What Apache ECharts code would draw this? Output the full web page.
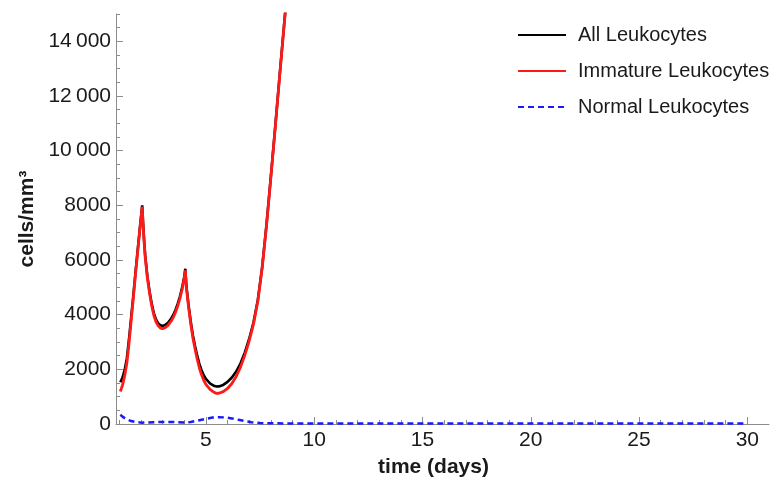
<!DOCTYPE html>
<html>
<head>
<meta charset="utf-8">
<script src="https://cdn.jsdelivr.net/npm/echarts@6/dist/echarts.min.js"></script>
<style>
  html, body { margin: 0; padding: 0; background: #fff; }
  #chart { width: 770px; height: 485px; }
</style>
</head>
<body>
<div id="chart"></div>
<script>
// time points (days) for the two upper curves
const days = [1.05, 1.15, 1.25, 1.35, 1.45, 1.55, 1.65, 1.75, 1.85, 1.95, 2.06,
  2.1, 2.15, 2.2, 2.3, 2.4, 2.5, 2.6, 2.7, 2.8, 2.9, 3.0, 3.1, 3.25, 3.4, 3.5,
  3.6, 3.7, 3.8, 3.9, 4.0, 4.05, 4.1, 4.2, 4.3, 4.4, 4.5, 4.6, 4.7, 4.8, 4.9,
  5.0, 5.2, 5.4, 5.5, 5.6, 5.8, 6.0, 6.2, 6.4, 6.6, 6.8, 7.0, 7.2, 7.4, 7.6,
  7.8, 8.0, 8.2, 8.4, 8.6, 8.8, 9.0]
const allCells = [1530, 1700, 1980, 2400, 3100, 3900, 4700, 5550, 6350, 7150, 8000,
  7350, 6700, 6150, 5400, 4850, 4400, 4050, 3820, 3680, 3610, 3590, 3610, 3700, 3860, 4000,
  4180, 4400, 4660, 4980, 5380, 5680, 5050, 4350, 3750, 3250, 2850, 2500, 2200, 1970, 1790,
  1650, 1480, 1390, 1370, 1375, 1430, 1540, 1700, 1920, 2220, 2620, 3120, 3720, 4550, 5750,
  7300, 9050, 10850, 12700, 14500, 16300, 18100]
const immatureCells = [1190, 1420, 1760, 2220, 2950, 3780, 4610, 5480, 6290, 7100, 7950,
  7290, 6640, 6090, 5330, 4780, 4320, 3970, 3730, 3590, 3510, 3490, 3515, 3610, 3770, 3910,
  4095, 4320, 4585, 4910, 5320, 5620, 4980, 4280, 3670, 3150, 2740, 2370, 2050, 1800, 1600,
  1450, 1260, 1150, 1120, 1125, 1185, 1300, 1480, 1740, 2080, 2520, 3040, 3660, 4500, 5710,
  7270, 9025, 10825, 12675, 14475, 16280, 18080]

// normal leukocytes run over the whole month
const normalDays = [1.05, 1.15, 1.3, 1.5, 1.7, 2.0, 2.3, 2.6, 3.0, 3.5, 4.0, 4.3, 4.6,
  5.0, 5.3, 5.6, 5.9, 6.2, 6.5, 6.8, 7.1, 7.5, 8.0, 9, 10, 12, 15, 20, 25, 30]
const normalCells = [340, 270, 190, 120, 80, 50, 55, 65, 75, 70, 55, 75, 120,
  190, 235, 250, 240, 205, 155, 105, 65, 35, 25, 20, 20, 20, 20, 20, 20, 20]

const xTicks = [5, 10, 15, 20, 25, 30]
const xMinorTicks = [1, 2, 3, 4, 5, 6, 7, 8, 9, 10, 11, 12, 13, 14, 15, 16, 17, 18, 19, 20,
  21, 22, 23, 24, 25, 26, 27, 28, 29, 30]
const yTicks = [0, 2000, 4000, 6000, 8000, 10000, 12000, 14000]

const font = 'Liberation Sans, Arial, sans-serif'
const axisGray = '#8c8c8c'
const textColor = '#1a1a1a'

function pairs(xs, ys) {
  return xs.map((x, i) => [x, ys[i]])
}

const chart = echarts.init(document.getElementById('chart'), null, { renderer: 'canvas' })

const option = {
  animation: false,
  backgroundColor: '#fff',
  grid: { left: 116, right: 1, top: 14, bottom: 61 },
  legend: {
    orient: 'vertical',
    left: 512,
    top: 20,
    itemWidth: 48,
    itemHeight: 14,
    itemGap: 16,
    itemStyle: { opacity: 0 },
    textStyle: { fontFamily: font, fontSize: 20, color: textColor, lineHeight: 20, padding: [0, 0, 0, 7] },
    data: ['All Leukocytes', 'Immature Leukocytes', 'Normal Leukocytes']
  },
  xAxis: [{
    type: 'value',
    min: 0.85,
    max: 31,
    name: 'time (days)',
    nameLocation: 'middle',
    nameGap: 33,
    nameTextStyle: { fontFamily: font, fontSize: 21, fontWeight: 'bold', color: textColor, padding: [0, 18, 0, 0] },
    axisLine: { show: true, onZero: false, lineStyle: { color: axisGray, width: 1 } },
    axisTick: { show: true, inside: true, length: 7, customValues: xTicks, lineStyle: { color: axisGray } },
    axisLabel: { customValues: xTicks, fontFamily: font, fontSize: 21, color: textColor, margin: 6 },
    splitLine: { show: false }
  }, {
    // minor ticks only
    type: 'value',
    min: 0.85,
    max: 31,
    position: 'bottom',
    axisLine: { show: false },
    axisTick: { show: true, inside: true, length: 4, customValues: xMinorTicks, lineStyle: { color: axisGray } },
    axisLabel: { show: false },
    splitLine: { show: false }
  }],
  yAxis: [{
    type: 'value',
    min: 0,
    max: 15000,
    name: 'cells/mm³',
    nameLocation: 'middle',
    nameGap: 77,
    nameRotate: 90,
    nameTextStyle: { fontFamily: font, fontSize: 21, fontWeight: 'bold', color: textColor },
    axisLine: { show: true, onZero: false, lineStyle: { color: axisGray, width: 1 } },
    axisTick: { show: true, inside: true, length: 7, customValues: yTicks, lineStyle: { color: axisGray } },
    axisLabel: {
      customValues: yTicks,
      fontFamily: font,
      fontSize: 21,
      color: textColor,
      margin: 5,
      formatter: v => v >= 10000 ? Math.floor(v / 1000) + '\u2009' + String(v % 1000).padStart(3, '0') : String(v)
    },
    splitLine: { show: false }
  }, {
    // minor ticks every 500
    type: 'value',
    min: 0,
    max: 15000,
    interval: 500,
    position: 'left',
    axisLine: { show: false },
    axisTick: { show: true, inside: true, length: 4, lineStyle: { color: axisGray } },
    axisLabel: { show: false },
    splitLine: { show: false }
  }],
  series: [{
    name: 'All Leukocytes',
    type: 'line',
    symbol: 'none',
    clip: true,
    data: pairs(days, allCells),
    itemStyle: { color: '#000' },
    lineStyle: { color: '#000', width: 2.6 }
  }, {
    name: 'Immature Leukocytes',
    type: 'line',
    symbol: 'none',
    clip: true,
    data: pairs(days, immatureCells),
    itemStyle: { color: '#ff1a1a' },
    lineStyle: { color: '#ff1a1a', width: 2.8 }
  }, {
    name: 'Normal Leukocytes',
    type: 'line',
    symbol: 'none',
    clip: true,
    data: pairs(normalDays, normalCells),
    itemStyle: { color: '#1a1aff' },
    lineStyle: { color: '#1a1aff', width: 2.5, type: [6, 4] }
  }]
}

chart.setOption(option)
</script>
</body>
</html>
